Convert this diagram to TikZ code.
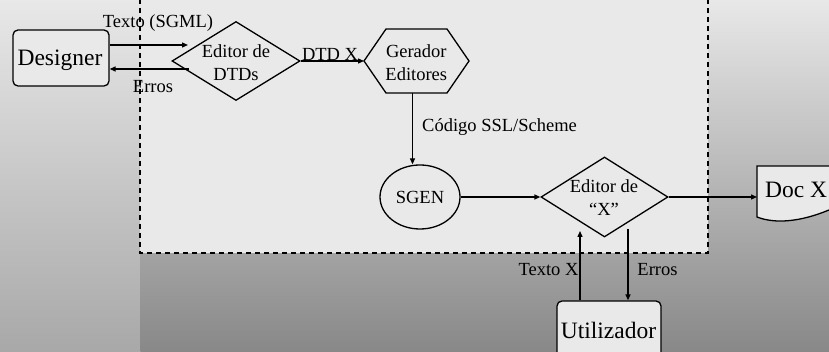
\documentclass[tikz,border=0pt]{standalone}
\usepackage{fontspec}
\setmainfont{Liberation Serif}
\usetikzlibrary{shapes.geometric,arrows.meta}
\definecolor{bgtop}{HTML}{E8E8E8}
\definecolor{bgbotL}{HTML}{A8A8A8}
\definecolor{bgbotR}{HTML}{888888}
\definecolor{panel}{HTML}{E9E9E9}
\begin{document}
\begin{tikzpicture}[x=1pt,y=-1pt,
  lbl/.style={inner sep=0pt, font=\fontsize{18.5}{23}\selectfont},
  big/.style={inner sep=0pt, font=\fontsize{23.5}{28}\selectfont},
  shapeline/.style={draw=black, line width=1.3pt, fill=panel},
  arr/.style={draw=black, line width=1.3pt, -{Triangle[length=6pt,width=5pt]}},
]
\useasboundingbox (0,0) rectangle (829,352);
\clip (0,0) rectangle (829,352);
% background
\shade[top color=bgtop, bottom color=bgbotL] (0,0) rectangle (829,352);
\shade[top color=bgtop, bottom color=bgbotR] (140.5,0) rectangle (829,352);
\draw[fill=panel, line width=1.6pt, dash pattern=on 5pt off 4pt] (140,-10) rectangle (708,253);

% shapes
\node[shapeline, rounded corners=5pt, minimum width=96pt, minimum height=56pt, inner sep=0pt] (designer) at (61,58) {};
\node[big, anchor=base] (designerT) at (60,66) {Designer};

\node[shapeline, diamond, minimum width=128pt, minimum height=79pt, inner sep=0pt] (dtd) at (236,61) {};
\node[lbl, align=center] (dtdT) at (236,62.3) {Editor de\\DTDs};

\coordinate (hexL) at (364,61);
\coordinate (hexB) at (412.5,93);
\draw[shapeline] (hexL) -- (386,29) -- (447,29) -- (469,61) -- (447,93) -- (386,93) -- cycle;
\node[lbl, align=center] (genT) at (416.3,62.3) {Gerador\\Editores};

\node[shapeline, ellipse, minimum width=80pt, minimum height=64pt, inner sep=0pt, font=\fontsize{18.5}{23}\selectfont] (sgen) at (420,197) {SGEN};

\node[shapeline, diamond, minimum width=127pt, minimum height=80pt, inner sep=0pt] (edx) at (604.5,197) {};
\node[lbl, align=center] (edxT) at (604,197.9) {Editor de\\“X”};

\coordinate (docW) at (757,197);
\draw[shapeline] (757,166) -- (757,217) .. controls (775,224) and (800,222) .. (829,210) -- (840,205) -- (840,166) -- cycle;
\node[big, anchor=base west] (docT) at (765,198) {Doc X};

\node[shapeline, rounded corners=5pt, minimum width=104pt, minimum height=70pt, inner sep=0pt] (util) at (609,336) {};
\node[big, anchor=base] (utilT) at (608.5,338) {Utilizador};

% connectors
\coordinate (a1) at (188,45);
\coordinate (a2) at (189,69);
\draw[arr] (designer.east |- a1) -- (a1);
\draw[arr] (a2) -- (designer.east |- a2);
\draw[arr] (dtd.east) -- (hexL);
\draw[arr] (hexB) -- (sgen.north -| hexB);
\draw[arr] (sgen.east) -- (edx.west);
\draw[arr] (edx.east) -- (docW);
\coordinate (t1) at (580,231);
\coordinate (e1) at (628,229);
\draw[arr] (util.north -| t1) -- (t1);
\draw[arr] (e1) -- (util.north -| e1);

% labels
\node[lbl, anchor=base] (l1) at (158,28) {Texto (SGML)};
\node[lbl, anchor=base] (l2) at (153,93) {Erros};
\node[lbl, anchor=base] (l3) at (330,61) {DTD X};
\node[lbl, anchor=base] (l4) at (499.5,132) {Código SSL/Scheme};
\node[lbl, anchor=base] (l5) at (548.5,276) {Texto X};
\node[lbl, anchor=base] (l6) at (657.5,276) {Erros};
\end{tikzpicture}
\end{document}
